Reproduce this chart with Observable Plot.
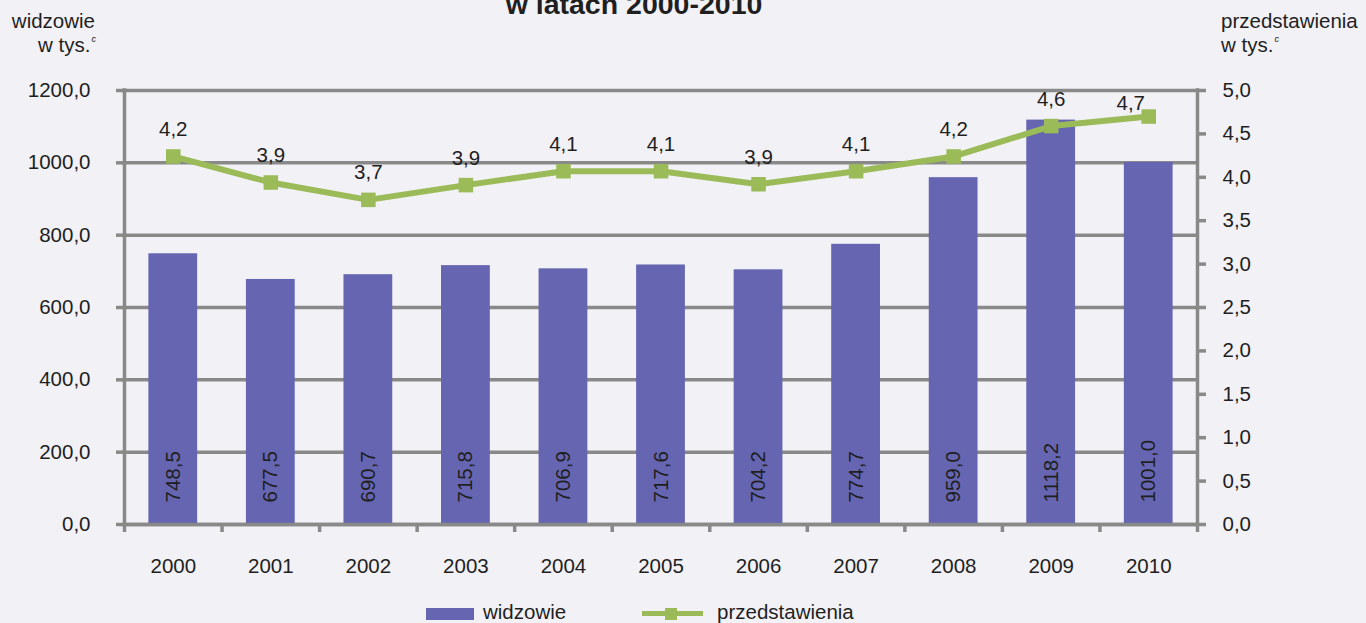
<!DOCTYPE html>
<html><head><meta charset="utf-8">
<script src="https://cdn.jsdelivr.net/npm/d3@7"></script>
<script src="https://cdn.jsdelivr.net/npm/@observablehq/plot@0.6"></script>
<style>
html,body{margin:0;padding:0;background:#f2f1f6;overflow:hidden;}
#wrap{position:relative;width:1366px;height:623px;font-family:"Liberation Sans",Arial,sans-serif;color:#1f1f1f;overflow:hidden;}
.t{position:absolute;white-space:nowrap;font-size:20.5px;line-height:20.5px;}
.sup{font-size:9px;font-style:italic;position:relative;top:-10px;margin-left:1px;}
#chart{position:absolute;left:0;top:0;}
</style></head><body><div id="wrap"><div id="chart"></div></div>
<script>
// ---- data ----
const years = [2000, 2001, 2002, 2003, 2004, 2005, 2006, 2007, 2008, 2009, 2010];
const widzowie = [748.5, 677.5, 690.7, 715.8, 706.9, 717.6, 704.2, 774.7, 959.0, 1118.2, 1001.0];
const przedstawienia = [4.24, 3.94, 3.74, 3.91, 4.07, 4.07, 3.92, 4.07, 4.24, 4.59, 4.70];
const leftTicks = [0, 200, 400, 600, 800, 1000, 1200];
const rightTicks = [0, 0.5, 1, 1.5, 2, 2.5, 3, 3.5, 4, 4.5, 5];
const seriesNames = ["widzowie", "przedstawienia"];
const titleText = "w latach 2000-2010";
const leftTitle = ["widzowie", "w tys."];
const rightTitle = ["przedstawienia", "w tys."];

const PURPLE = "#6565b1", GREEN = "#9bbb59", GRID = "#898989", TEXT = "#1f1f1f";
const K = leftTicks[leftTicks.length - 1] / rightTicks[rightTicks.length - 1];
const fmt = v => v.toFixed(1).replace(".", ",");
const rows = years.map((year, i) => ({year, w: widzowie[i], p: przedstawienia[i] * K, pv: przedstawienia[i]}));
const bounds = [...years.map(y => y - 0.5), years[years.length - 1] + 0.5];

const chart = Plot.plot({
  width: 1366, height: 623,
  marginLeft: 124, marginRight: 169, marginTop: 90, marginBottom: 99,
  x: {type: "linear", domain: [bounds[0], bounds[bounds.length - 1]], label: null},
  y: {domain: [0, leftTicks[leftTicks.length - 1]], label: null},
  style: {background: "transparent", fontFamily: "'Liberation Sans', Arial, sans-serif", fontSize: "20.5px", color: TEXT, overflow: "visible"},
  marks: [
    Plot.ruleY(leftTicks, {stroke: GRID, strokeWidth: 3.5, strokeLinecap: "square"}),
    Plot.rectY(rows, {x1: d => d.year - 0.25, x2: d => d.year + 0.25, y: "w", fill: PURPLE}),
    Plot.ruleX([bounds[0], bounds[bounds.length - 1]], {stroke: GRID, strokeWidth: 3.5, strokeLinecap: "square"}),
    Plot.ruleY([0], {stroke: GRID, strokeWidth: 3.5}),
    Plot.axisY(leftTicks, {anchor: "left", label: null, tickSize: 8, tickPadding: 26, tickFormat: fmt, stroke: GRID, strokeWidth: 3.5, fill: TEXT, fontSize: 20.5}),
    Plot.axisY(rightTicks.map(v => v * K), {anchor: "right", label: null, tickSize: 8, tickPadding: 17, tickFormat: v => fmt(v / K), stroke: GRID, strokeWidth: 3.5, fill: TEXT, fontSize: 20.5}),
    Plot.axisX(bounds, {anchor: "bottom", label: null, tickSize: 8, tickFormat: () => "", stroke: GRID, strokeWidth: 3.5}),
    Plot.axisX(years, {anchor: "bottom", label: null, tickSize: 0, tickPadding: 34, tickFormat: d => String(d), fill: TEXT, fontSize: 20.5}),
    Plot.line(rows, {x: "year", y: "p", stroke: GREEN, strokeWidth: 6, strokeLinejoin: "miter"}),
    Plot.dot(rows, {x: "year", y: "p", symbol: "square", r: 8.2, fill: GREEN, stroke: "none"}),
    Plot.text(rows.slice(0, -1), {x: "year", y: "p", text: d => fmt(d.pv), dy: -27, fill: TEXT, fontSize: 20.5}),
    Plot.text(rows.slice(-1), {x: "year", y: "p", text: d => fmt(d.pv), dx: -18, dy: -13, fill: TEXT, fontSize: 20.5}),
    Plot.text(rows, {x: "year", y: 0, text: d => fmt(d.w), rotate: -90, textAnchor: "start", lineAnchor: "middle", dy: -22, fill: TEXT, fontSize: 20.5})
  ]
});
document.getElementById("chart").appendChild(chart);

// ---- titles & legend (HTML) ----
const wrap = document.getElementById("wrap");
function addDiv(html, css) {
  const d = document.createElement("div");
  d.className = "t";
  d.innerHTML = html;
  Object.assign(d.style, css);
  wrap.appendChild(d);
  return d;
}
addDiv(titleText, {top: "-10px", left: "634px", transform: "translateX(-50%)", fontWeight: "bold", fontSize: "28.5px", lineHeight: "28.5px"});
addDiv(leftTitle[0], {top: "10.6px", right: (1366 - 95) + "px", textAlign: "right"});
addDiv(leftTitle[1] + '<span class="sup">c</span>', {top: "34.6px", right: (1366 - 96) + "px", textAlign: "right"});
addDiv(rightTitle[0], {top: "10.6px", left: "1221px"});
addDiv(rightTitle[1] + '<span class="sup">c</span>', {top: "34.6px", left: "1221px"});

// legend
const sw = document.createElement("div");
Object.assign(sw.style, {position: "absolute", left: "426px", top: "608px", width: "48px", height: "12px", background: PURPLE});
wrap.appendChild(sw);
addDiv(seriesNames[0], {top: "602px", left: "483px"});
const ln = document.createElement("div");
Object.assign(ln.style, {position: "absolute", left: "642px", top: "611px", width: "61px", height: "5px", background: GREEN});
wrap.appendChild(ln);
const mk = document.createElement("div");
Object.assign(mk.style, {position: "absolute", left: "665px", top: "608px", width: "12px", height: "12px", background: GREEN});
wrap.appendChild(mk);
addDiv(seriesNames[1], {top: "602px", left: "717px"});
</script>
</body></html>
